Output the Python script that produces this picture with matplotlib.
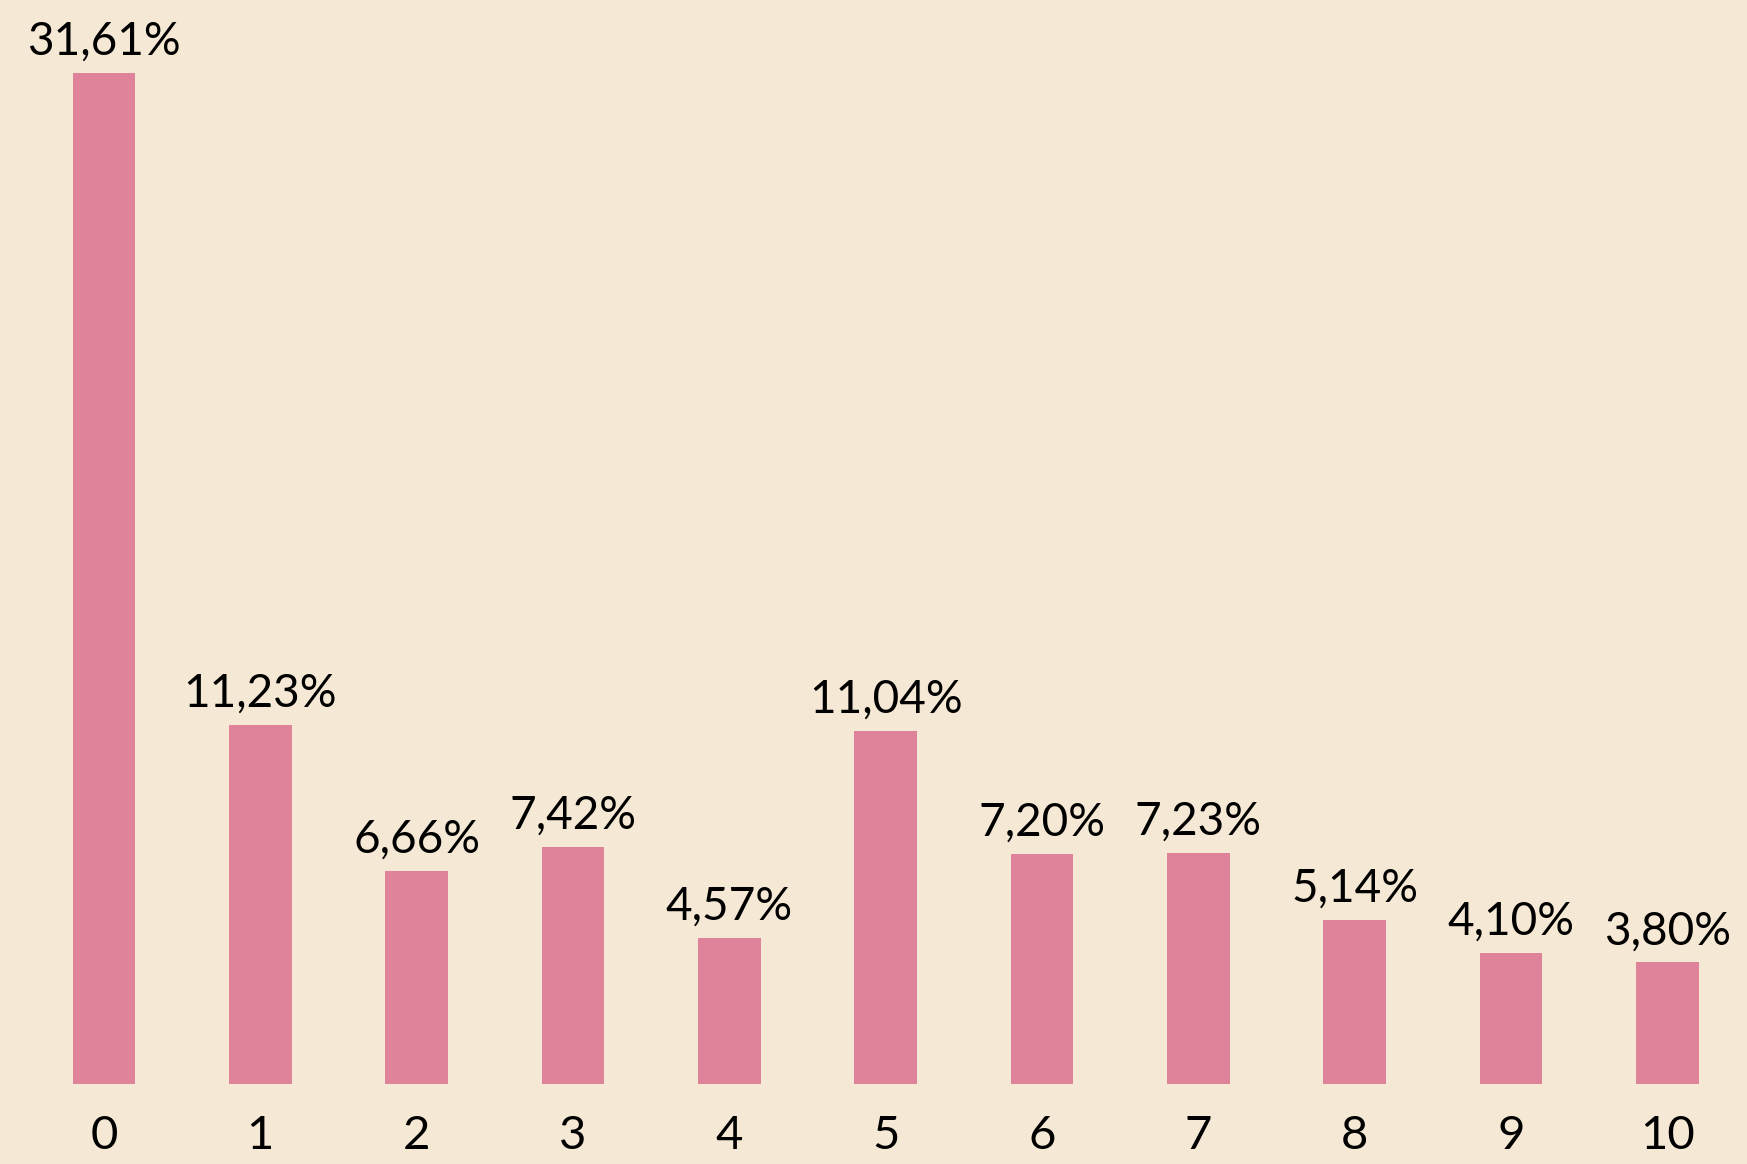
import matplotlib
matplotlib.use("Agg")
import matplotlib.pyplot as plt

categories = ["0", "1", "2", "3", "4", "5", "6", "7", "8", "9", "10"]
values = [31.61, 11.23, 6.66, 7.42, 4.57, 11.04, 7.20, 7.23, 5.14, 4.10, 3.80]
labels = ["31,61%", "11,23%", "6,66%", "7,42%", "4,57%", "11,04%",
          "7,20%", "7,23%", "5,14%", "4,10%", "3,80%"]

bg = "#F5E8D4"
bar_color = "#DE8399"

plt.rcParams['font.family'] = ['Lato', 'DejaVu Sans']

fig = plt.figure(figsize=(17.47, 11.64), dpi=100, facecolor=bg)
ax = fig.add_axes([0, 80 / 1164, 1, 1084 / 1164])
ax.set_facecolor(bg)

x = list(range(len(categories)))
ax.bar(x, values, width=0.4, color=bar_color)

for xi, v, lab in zip(x, values, labels):
    ax.annotate(lab, (xi, v), xytext=(0, 13), textcoords="offset points",
                ha="center", va="baseline", fontsize=33, color="black")

ax.set_xlim(-0.665, 10.51)
ax.set_ylim(0, 33.9)
ax.set_xticks(x)
ax.set_xticklabels(categories, fontsize=34)
ax.tick_params(axis="x", length=0, pad=22)
ax.set_yticks([])
for s in ax.spines.values():
    s.set_visible(False)

fig.savefig("out.png", facecolor=bg)
